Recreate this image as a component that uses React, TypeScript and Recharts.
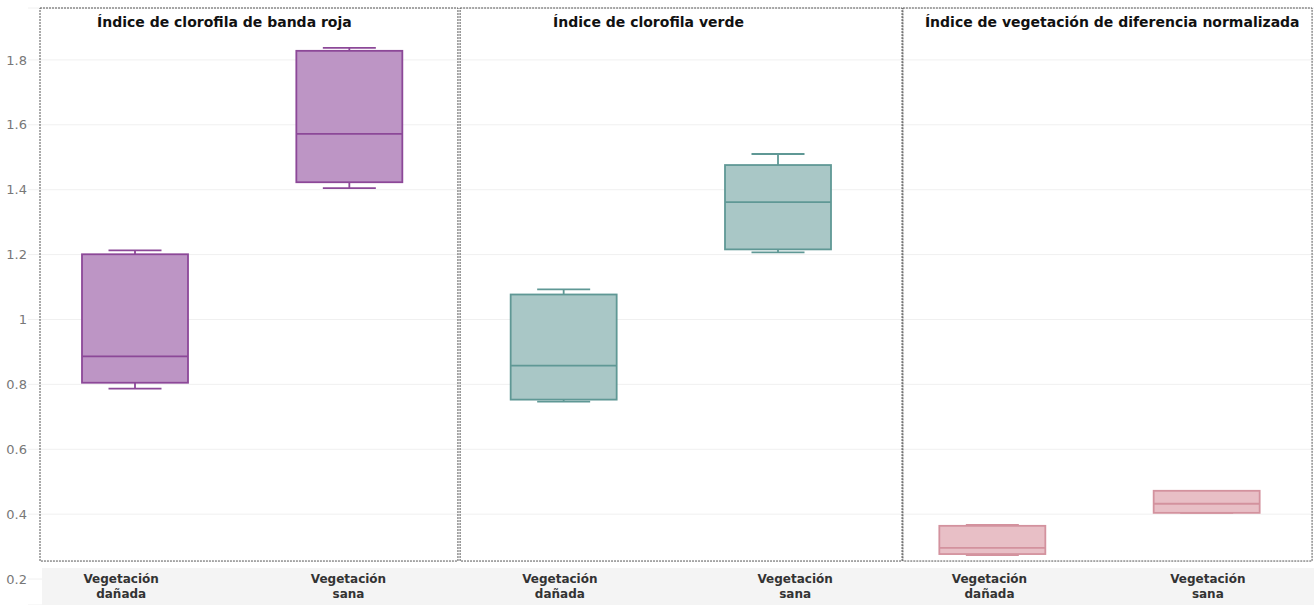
import { ComposedChart, Bar, XAxis, YAxis, CartesianGrid, ReferenceArea } from "recharts";

// Six boxes, two per panel
const CATEGORIES = [
  "Vegetación dañada",
  "Vegetación sana",
  "Vegetación dañada",
  "Vegetación sana",
  "Vegetación dañada",
  "Vegetación sana",
];
const PANEL_OF = [0, 0, 1, 1, 2, 2];
const PANEL_TITLES = [
  "Índice de clorofila de banda roja",
  "Índice de clorofila verde",
  "Índice de vegetación de diferencia normalizada",
];

// five-number summaries
const MIN = [0.787, 1.405, 0.747, 1.207, 0.274, 0.404];
const Q1 = [0.805, 1.423, 0.753, 1.216, 0.277, 0.404];
const MEDIAN = [0.886, 1.572, 0.858, 1.362, 0.296, 0.432];
const Q3 = [1.201, 1.828, 1.077, 1.476, 0.364, 0.472];
const MAX = [1.213, 1.837, 1.093, 1.51, 0.367, 0.472];

const Y_TICKS = [0.2, 0.4, 0.6, 0.8, 1, 1.2, 1.4, 1.6, 1.8];

// panel look
const PANEL_FILL = ["#bd95c5", "#a9c7c6", "#e8bfc6"];
const PANEL_STROKE = ["#8c4898", "#5f9895", "#d3929e"];
// panel frames in category units, and title offsets
const PANEL_SPANS = [
  [0.056, 2.006],
  [2.016, 4.078],
  [4.082, 5.991],
];
const TITLE_DX = [57, 93, 22];
// the category labels are not quite centred under the boxes
const LABEL_DX = [-14, -1, -4, 17, -3, 1];

const rows = CATEGORIES.map((_, i) => ({
  key: String(i),
  idx: i,
  panel: PANEL_OF[i],
  min: MIN[i],
  q1: Q1[i],
  median: MEDIAN[i],
  q3: Q3[i],
  max: MAX[i],
}));

function BoxShape(props: any) {
  const { x, y, width, height, payload } = props;
  const k = height / (payload.q3 - payload.q1);
  const at = (v: number) => y + (payload.q3 - v) * k;
  const cx = x + width / 2;
  const half = width / 4;
  const stroke = PANEL_STROKE[payload.panel];
  const fill = PANEL_FILL[payload.panel];
  const top = at(payload.max);
  const bottom = at(payload.min);
  return (
    <g stroke={stroke} strokeWidth={1.8}>
      <line x1={cx} x2={cx} y1={top} y2={y} />
      <line x1={cx} x2={cx} y1={y + height} y2={bottom} />
      <line x1={cx - half} x2={cx + half} y1={top} y2={top} />
      <line x1={cx - half} x2={cx + half} y1={bottom} y2={bottom} />
      <rect x={x} y={y} width={width} height={height} fill={fill} />
      <line x1={x} x2={x + width} y1={at(payload.median)} y2={at(payload.median)} />
    </g>
  );
}

// labels sit inside the grey strip at the bottom of the plot
function XTick(props: any) {
  const { x, payload } = props;
  const i = Number(payload.value);
  const [a, b] = CATEGORIES[i].split(" ");
  const lx = x + LABEL_DX[i];
  return (
    <g fill="#333" fontSize={12} fontWeight="bold">
      <text x={lx} y={583} textAnchor="middle">
        {a}
      </text>
      <text x={lx} y={598} textAnchor="middle">
        {b}
      </text>
    </g>
  );
}

function PanelTitle(props: any) {
  const { viewBox, text, dx } = props;
  return (
    <text x={viewBox.x + dx} y={viewBox.y + 19} fontSize={14} fontWeight="bold" fill="#111">
      {text}
    </text>
  );
}

export default function App() {
  return (
    <div
      style={{
        position: "absolute",
        left: 0,
        top: 0,
        width: 1314,
        height: 605,
        background: "#fff",
        fontFamily: '"DejaVu Sans", Verdana, sans-serif',
      }}
    >
      <ComposedChart width={1314} height={605} data={rows} margin={{ top: 8, right: 0, bottom: 0, left: 0 }}>
        <CartesianGrid vertical={false} stroke="#f0f0f0" />
        <XAxis
          dataKey="key"
          type="category"
          mirror
          axisLine={false}
          tickLine={false}
          tickSize={0}
          interval={0}
          tick={<XTick />}
        />
        <XAxis xAxisId="num" dataKey="idx" type="number" domain={[0, 6]} allowDataOverflow hide />
        <YAxis
          type="number"
          domain={[0.12, 1.96]}
          allowDataOverflow
          ticks={Y_TICKS}
          interval={0}
          width={28}
          axisLine={false}
          tickLine={false}
          tickSize={0}
          tickMargin={1}
          tick={{ fill: "#777", fontSize: 13 }}
        />
        <ReferenceArea
          xAxisId="num"
          x1={0.065}
          x2={6}
          y1={0.12}
          y2={0.234}
          fill="#f4f4f4"
          fillOpacity={1}
          stroke="none"
          ifOverflow="visible"
        />
        {PANEL_SPANS.map(([a, b], p) => (
          <ReferenceArea
            key={p}
            xAxisId="num"
            x1={a}
            x2={b}
            y1={0.2555}
            y2={1.96}
            fillOpacity={0}
            stroke="#555"
            strokeDasharray="2 1"
            ifOverflow="visible"
            label={<PanelTitle text={PANEL_TITLES[p]} dx={TITLE_DX[p]} />}
          />
        ))}
        <Bar dataKey={(d: any) => [d.q1, d.q3]} barSize={106} shape={<BoxShape />} isAnimationActive={false} />
      </ComposedChart>
    </div>
  );
}
